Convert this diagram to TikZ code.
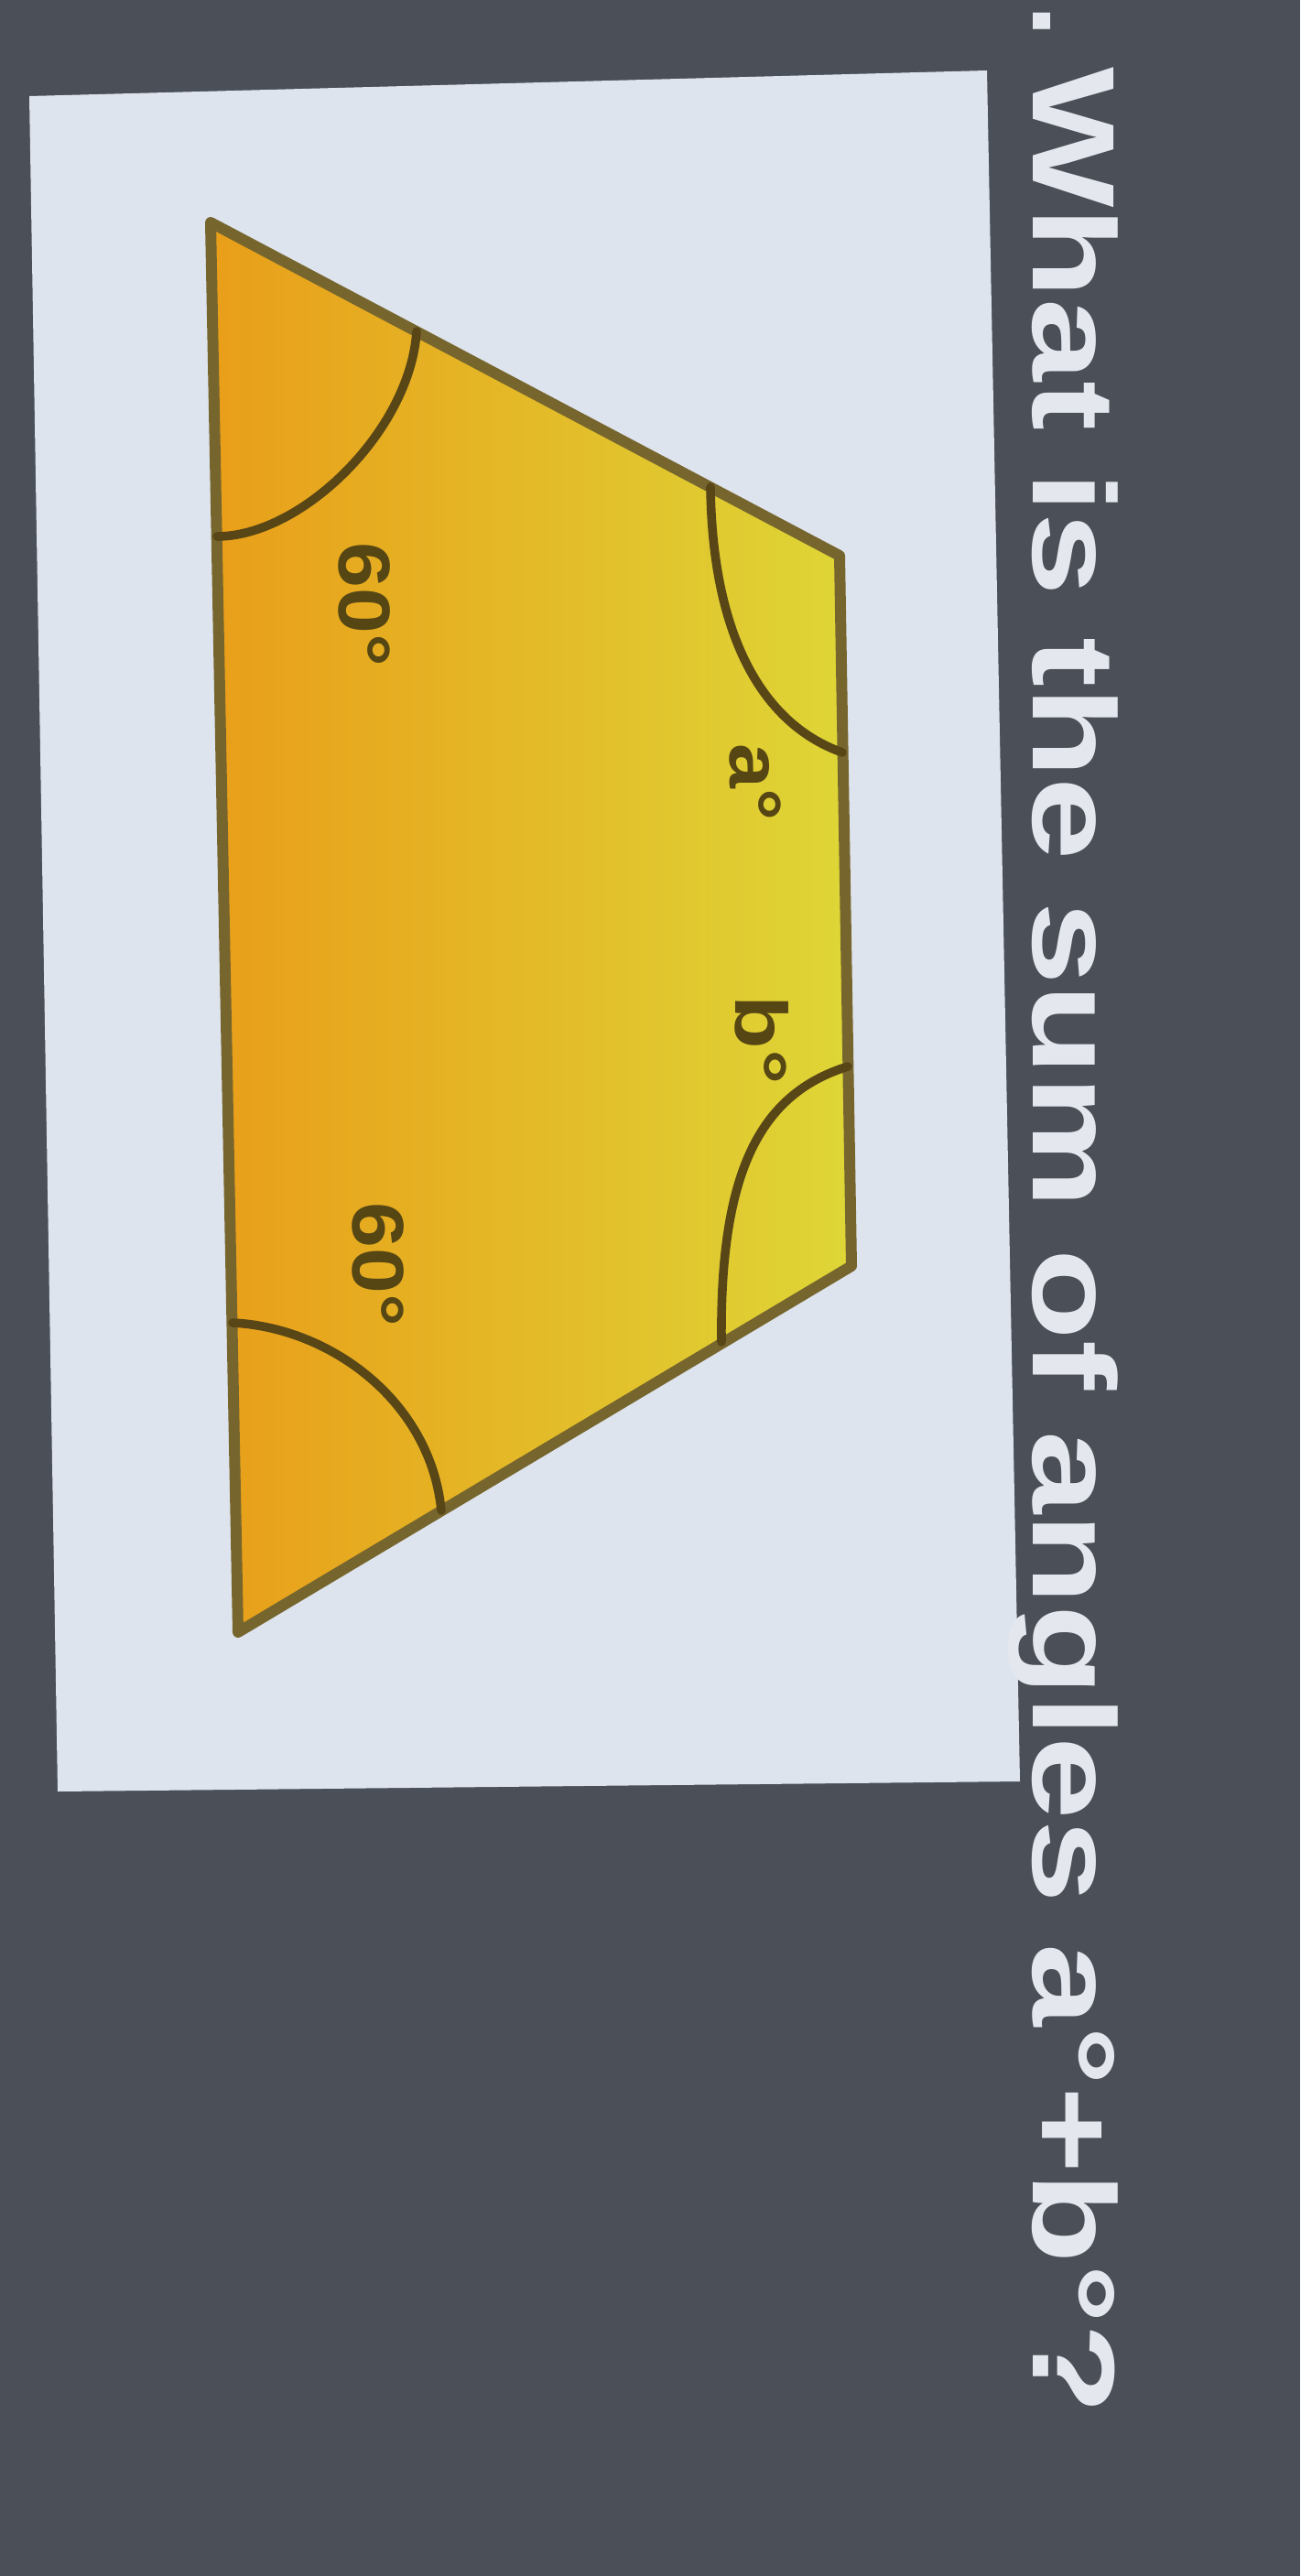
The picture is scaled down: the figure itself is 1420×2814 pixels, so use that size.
\documentclass[tikz,border=0pt]{standalone}
\usepackage{fontspec}
\setmainfont{Liberation Sans}
\usepackage{graphicx}
\definecolor{bgdark}{RGB}{74,79,88}
\definecolor{panelc}{RGB}{222,228,238}
\definecolor{orangeL}{RGB}{233,158,25}
\definecolor{orangeM}{RGB}{236,190,35}
\definecolor{yellowR}{RGB}{222,214,55}
\definecolor{edgec}{RGB}{118,102,46}
\definecolor{arcc}{RGB}{88,70,22}
\definecolor{lblc}{RGB}{85,70,20}
\definecolor{qtextc}{RGB}{228,232,238}
\tikzset{
  edgeline/.style={draw=edgec, line width=6pt, line join=round},
  anglearc/.style={draw=arcc, line width=4.8pt, line cap=round},
  lbl/.style={text=lblc, font=\fontsize{40}{44}\selectfont\bfseries, inner sep=0pt, anchor=base west, rotate=-90},
  qtext/.style={text=qtextc, font=\fontsize{64}{70}\selectfont\bfseries, inner sep=0pt, anchor=base west, rotate=-90}
}
\begin{document}
\begin{tikzpicture}[x=0.5pt,y=-0.5pt]
\fill[bgdark] (0,0) rectangle (1420,2814);
\useasboundingbox (0,0) rectangle (1420,2814);
% panel
\fill[panelc] (32,105) -- (1078,77) -- (1114,1946) -- (63,1957) -- cycle;
% trapezoid
\coordinate (A) at (230,243);
\coordinate (B) at (917,607);
\coordinate (C) at (930,1383);
\coordinate (D) at (260,1783);
\shade[left color=orangeL, middle color=orangeM, right color=yellowR] (A) -- (B) -- (C) -- (D) -- cycle;
\path[edgeline] (A) -- (B) -- (C) -- (D) -- cycle;
% angle arcs
\draw[anglearc] (455,362) .. controls (448,470) and (330,586) .. (237,586);
\draw[anglearc] (776,532) .. controls (778,690) and (830,790) .. (920,822);
\draw[anglearc] (926,1165) .. controls (830,1195) and (786,1280) .. (788,1466);
\draw[anglearc] (254,1445) .. controls (360,1450) and (470,1530) .. (482,1650);
% labels
\node[lbl] (l60a) at (370,592) {\scalebox{1.12}[1]{60°}};
\node[lbl] (la) at (797,812) {\scalebox{1.1}[1]{a°}};
\node[lbl] (lb) at (803,1087) {\scalebox{1.2}[1]{b°}};
\node[lbl] (l60b) at (385,1313) {\scalebox{1.12}[1]{60°}};
% question
\node[qtext] (dot) at (1128,5) {.};
\node[qtext] (q) at (1128,73) {\scalebox{1.27}[1]{What is the sum of angles a°+b°?}};
\end{tikzpicture}
\end{document}
